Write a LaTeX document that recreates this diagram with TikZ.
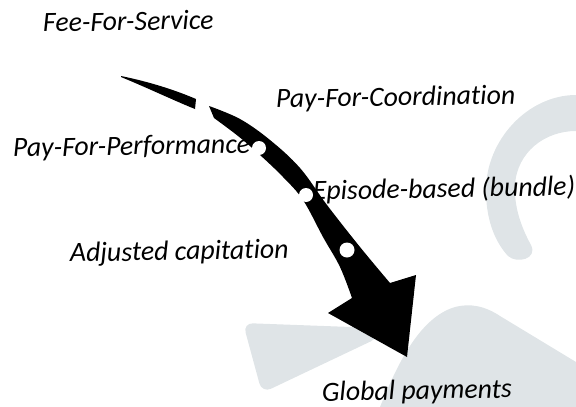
\documentclass[tikz,border=0pt]{standalone}
\usepackage{fontspec}
\setmainfont[Ligatures=NoCommon]{Carlito}
\definecolor{bggray}{HTML}{DFE4E7}
\begin{document}
\begin{tikzpicture}[x=1pt,y=-1pt,
  lbl/.style={anchor=base west,inner sep=0pt,rotate=1,
    font=\fontsize{27.8}{33}\selectfont\itshape},
  dotw/.style={fill=white}]
\useasboundingbox (0,0) rectangle (576,407);
% background decorative shapes
\fill[bggray] (576,95) .. controls (528,95) and (486,140) .. (486,190)
  .. controls (486,225) and (498,245) .. (508,256)
  .. controls (517,264) and (538,259) .. (531,245)
  .. controls (520,225) and (514,205) .. (515,185)
  .. controls (517,152) and (545,131) .. (576,131) -- cycle;
\fill[bggray,rounded corners=10pt] (243,323) -- (378,328) -- (380,337) -- (262,393) -- cycle;
\fill[bggray] (380,407) .. controls (396,368) and (418,318) .. (455,307)
  .. controls (470,303) and (485,306) .. (500,316) -- (576,362) -- (576,407) -- cycle;
% arrow tail
\fill[black] (121,76) .. controls (150,82) and (175,90) .. (196,99) -- (195,109)
  .. controls (175,101) and (150,89) .. (121,77) -- cycle;
% arrow body and head
\fill[black] plot[smooth,tension=0.6] coordinates {(209,106) (240,119) (270,140) (300,168) (327,205) (360,247) (390,283)}
  -- (416,275) -- (407,357) -- (328,313)
  -- plot[smooth,tension=0.6] coordinates {(352,298) (340,267) (323,237) (303,200) (283,177) (260,155) (238,136) (214,118)}
  -- cycle;
% white dots
\fill[dotw] (259,148) circle (7);
\fill[dotw] (306,195) circle (7);
\fill[dotw] (347,250) circle (7.5);
% labels
\node[lbl] (ffs) at (43,32) {Fee-For-Service};
\node[lbl] (pfc) at (276,108) {Pay-For-Coordination};
\node[lbl] (pfp) at (13,157) {Pay-For-Performance};
\node[lbl] (ebb) at (313,200) {Episode-based (bundle)};
\node[lbl] (adj) at (70,262) {Adjusted capitation};
\node[lbl] (glb) at (322,401) {Global payments};
\end{tikzpicture}
\end{document}
